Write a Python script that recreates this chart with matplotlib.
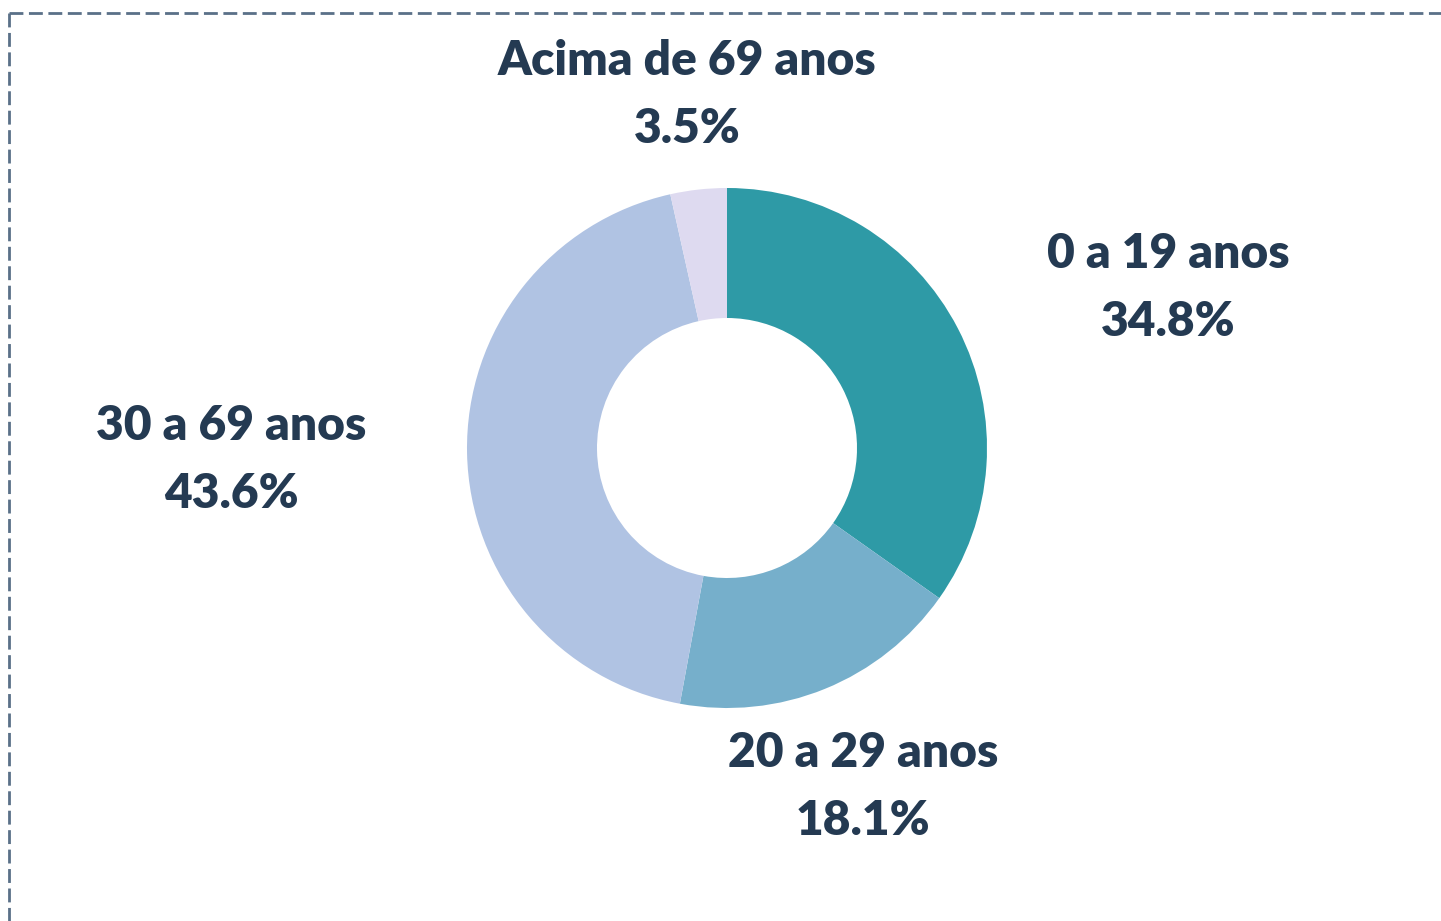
import matplotlib
matplotlib.use("Agg")
import matplotlib.pyplot as plt
from matplotlib.lines import Line2D

categories = ["0 a 19 anos", "20 a 29 anos", "30 a 69 anos", "Acima de 69 anos"]
values = [34.8, 18.1, 43.6, 3.5]
colors = ["#2e9aa6", "#76afcb", "#b0c3e3", "#dedaf0"]
# label centres (pixels in the 1441x921 canvas), one per category
label_pos = [(1168, 288), (863, 787), (231, 460), (687, 95)]

W, H = 1441, 921
fig = plt.figure(figsize=(W / 100, H / 100), dpi=100)
fig.patch.set_facecolor("white")

cx, cy, R = 727, 448, 260
ax = fig.add_axes([(cx - R) / W, 1 - (cy + R) / H, 2 * R / W, 2 * R / H])
ax.pie(values, colors=colors, startangle=90, counterclock=False, radius=1,
       wedgeprops=dict(width=0.5, linewidth=0))
ax.set_xlim(-1, 1)
ax.set_ylim(-1, 1)
ax.set_aspect("equal")
ax.axis("off")

txtc = "#243a52"
for cat, v, (x, y) in zip(categories, values, label_pos):
    fig.text(x / W, 1 - y / H, f"{cat}\n{v:.1f}%", ha="center", va="center",
             fontsize=34.5, fontweight="heavy", family="Lato", color=txtc,
             linespacing=1.64)

# dashed frame (top and left edges)
bc = "#5a7088"
fig.add_artist(Line2D([9 / W, 1], [1 - 13 / H, 1 - 13 / H], color=bc, lw=2,
                      linestyle=(0, (5, 2)), transform=fig.transFigure))
fig.add_artist(Line2D([9 / W, 9 / W], [1 - 13 / H, 0], color=bc, lw=2,
                      linestyle=(0, (5, 2)), transform=fig.transFigure))

fig.savefig("out.png", dpi=100, facecolor="white")
